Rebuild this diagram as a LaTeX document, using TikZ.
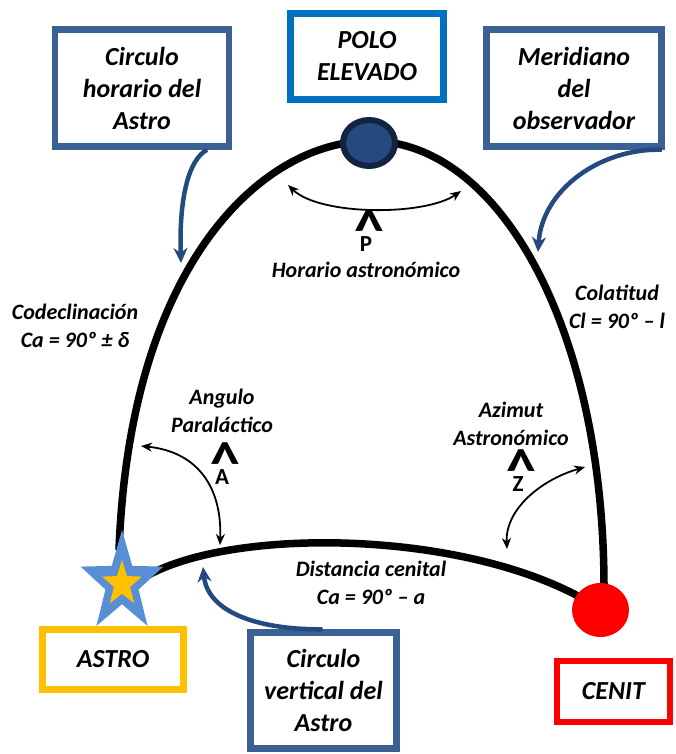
\documentclass[tikz,border=0pt]{standalone}
\usepackage{fontspec}
\setmainfont{Carlito}
\usetikzlibrary{shapes.geometric,arrows.meta}
\definecolor{boxblue}{RGB}{58,96,148}
\definecolor{arrblue}{RGB}{36,74,128}
\definecolor{poleblue}{RGB}{38,74,126}
\definecolor{poleedge}{RGB}{18,36,66}
\definecolor{poloframe}{RGB}{0,112,192}
\definecolor{gold}{RGB}{255,192,0}
\definecolor{starblue}{RGB}{88,142,212}
\newcommand{\bighat}{\scalebox{2.6}[2.6]{\textasciicircum}}
\begin{document}
\begin{tikzpicture}[x=1pt,y=-1pt,
  lbl/.style={font=\fontsize{22}{28}\selectfont\bfseries\itshape, align=center, inner sep=0pt},
  frame/.style={draw=#1, line width=6.5pt, fill=white, font=\fontsize{26}{32}\selectfont\bfseries\itshape, align=center, inner sep=0pt},
  hat/.style={font=\fontsize{23}{23}\selectfont\bfseries, inner sep=0pt, anchor=base},
  thin/.style={line width=1.8pt, {Stealth[length=11pt,width=9pt]}-{Stealth[length=11pt,width=9pt]}},
  bluearr/.style={draw=arrblue, line width=4.5pt, -{Stealth[length=15pt,width=14pt]}},
  arc/.style={line width=7.5pt, black}]
\useasboundingbox (0,0) rectangle (676,754);
% main arcs
\coordinate (s0) at (119,550);
\coordinate (top) at (370,141);
\coordinate (z0) at (604,592);
\draw[arc] (s0) .. controls (130,260) and (265,141) .. (top)
  .. controls (500,141) and (605,330) .. (z0);
\coordinate (s1) at (140,580);
\coordinate (z1) at (578,596);
\draw[arc] (s1) .. controls (220,528) and (450,528) .. (z1);
% bodies
\node[ellipse, minimum width=52pt, minimum height=46pt, fill=poleblue, draw=poleedge, line width=6pt, inner sep=0pt] (pole) at (369,143) {};
\node[ellipse, minimum width=57pt, minimum height=54pt, fill=red, inner sep=0pt] (cenitdot) at (600.5,610) {};
\node[star, star points=5, star point ratio=2.5, minimum size=106pt, xscale=0.82, fill=starblue, inner sep=0pt] (star) at (122,583) {};
\node[star, star points=5, star point ratio=2.45, minimum size=48pt, xscale=0.87, fill=gold, inner sep=0pt] (starin) at (122,584) {};
% boxes
\node[frame=boxblue, minimum width=174pt, minimum height=117pt] (chor) at (142,88) {Circulo\\horario del\\Astro};
\node[frame=poloframe, minimum width=153pt, minimum height=86pt] (polo) at (367,56.5) {POLO\\ELEVADO};
\node[frame=boxblue, minimum width=175pt, minimum height=117pt] (mer) at (574,88) {Meridiano\\del\\observador};
\node[frame=gold, minimum width=141pt, minimum height=60pt] (astro) at (113,659.5) {ASTRO};
\node[frame=boxblue, minimum width=146pt, minimum height=116pt] (cver) at (323.5,690.5) {Circulo\\vertical del\\Astro};
\node[frame=red, minimum width=113pt, minimum height=61pt] (cenit) at (613.5,691.5) {CENIT};
% blue pointers
\coordinate (c1) at (181,263);
\coordinate (c2) at (538,252);
\coordinate (c3) at (203,567);
\draw[bluearr] ([xshift=65pt]chor.south) .. controls (188,160) and (179,200) .. (c1);
\draw[bluearr] ([xshift=-3pt]mer.south east) .. controls (600,148) and (542,190) .. (c2);
\draw[bluearr] ([xshift=-1pt]cver.north) .. controls (265,630) and (208,615) .. (c3);
% angle arrows
\coordinate (p1) at (288,185);
\coordinate (p2) at (461,191);
\draw[thin] (p1) .. controls (320,216) and (425,216) .. (p2);
\coordinate (a1) at (141,446);
\coordinate (a2) at (220,545);
\draw[thin] (a1) .. controls (200,452) and (222,490) .. (a2);
\coordinate (zz1) at (585,467);
\coordinate (zz2) at (507,549);
\draw[thin] (zz1) .. controls (540,480) and (505,510) .. (zz2);
% labels
\node[hat] (hp) at (366,251) {P};
\node[hat] (hphat) at (369,250) {\bighat};
\node[lbl] (hor) at (366,270) {Horario astronómico};
\node[lbl] (codec) at (75,326) {Codeclinación\\Ca = 90º ± δ};
\node[lbl] (colat) at (617,307) {Colatitud\\Cl = 90º – l};
\node[lbl] (angp) at (222,411) {Angulo\\Paraláctico};
\node[hat] (ha) at (222,484) {A};
\node[hat] (hahat) at (225,483) {\bighat};
\node[lbl] (azim) at (511,424) {Azimut\\Astronómico};
\node[hat] (hz) at (518,491) {Z};
\node[hat] (hzhat) at (521,490) {\bighat};
\node[lbl] (dist) at (371,583) {Distancia cenital\\Ca = 90º – a};
\end{tikzpicture}
\end{document}
